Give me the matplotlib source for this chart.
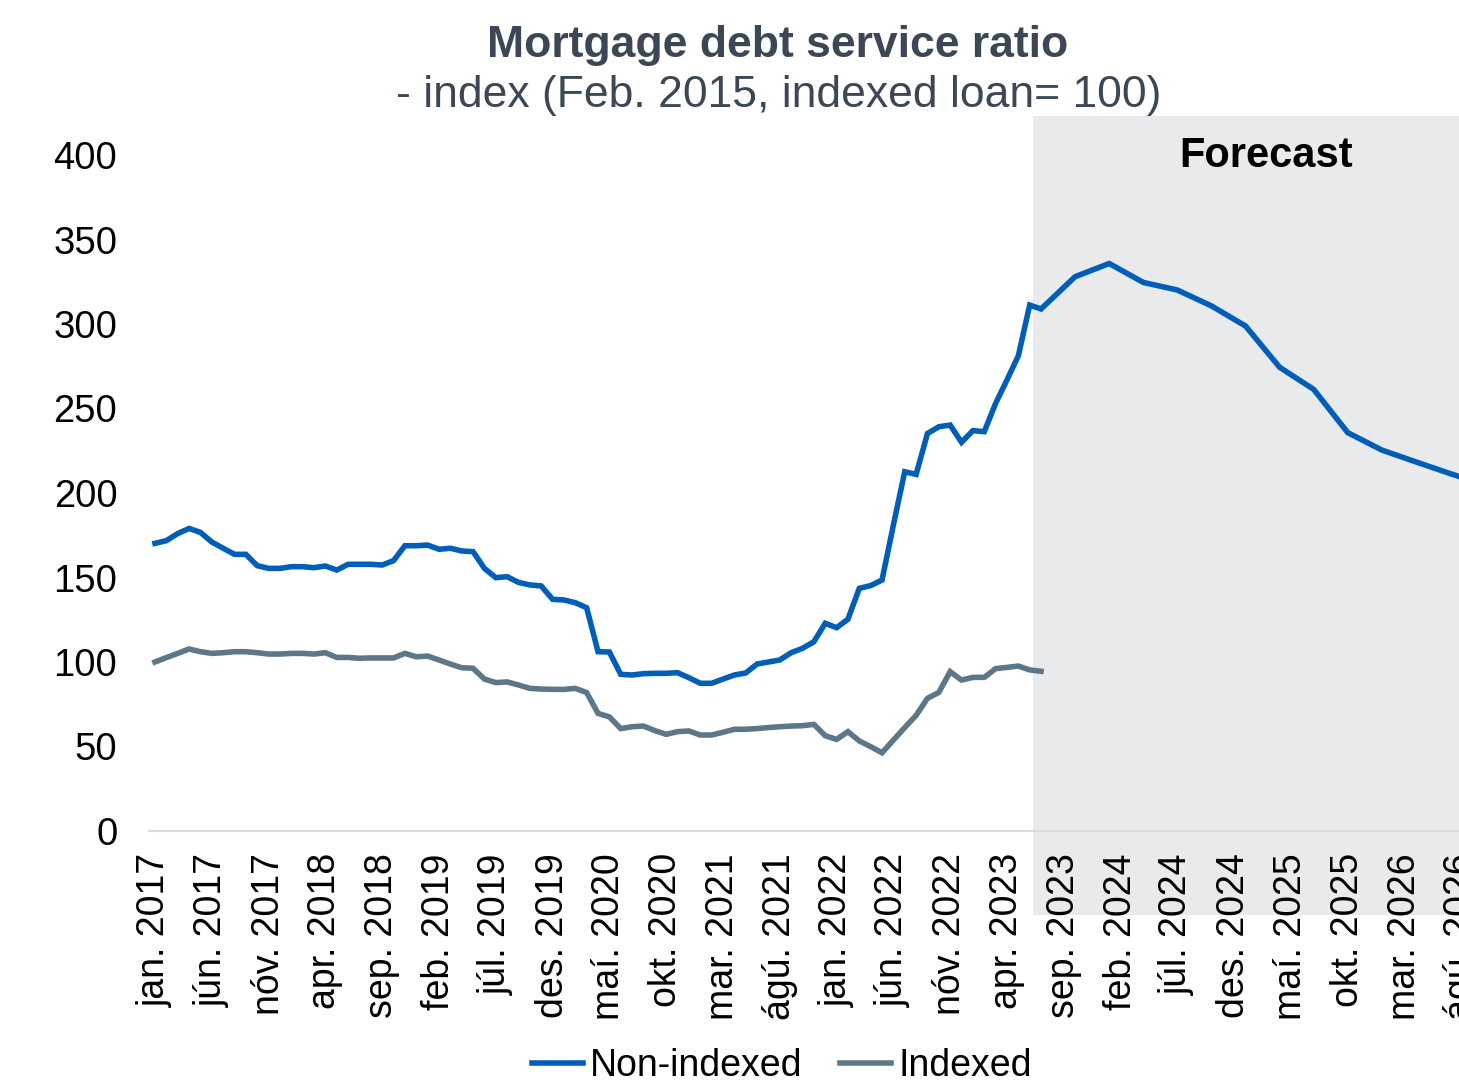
import matplotlib
matplotlib.use("Agg")
import matplotlib.pyplot as plt

plt.rcParams['font.family'] = ['Liberation Sans', 'DejaVu Sans']

# ---- data ----
month_names = ["jan.", "feb.", "mar.", "apr.", "maí.", "jún.",
               "júl.", "ágú.", "sep.", "okt.", "nóv.", "des."]
years = [2017, 2018, 2019, 2020, 2021, 2022, 2023, 2024, 2025, 2026]
months = [f"{m} {y}" for y in years for m in month_names]  # jan. 2017 .. des. 2026

# Historical monthly values, jan. 2017 – júl. 2023
non_indexed_hist = [
    170.2, 171.8, 176.0, 179.0, 176.7, 171.0, 167.3, 163.7, 163.7, 157.0,
    155.4, 155.4, 156.4, 156.4, 155.8, 156.8, 154.4, 157.8, 157.8, 157.8,
    157.4, 160.0, 168.8, 168.8, 169.2, 166.7, 167.3, 165.7, 165.3, 155.4,
    149.9, 150.5, 147.1, 145.6, 145.0, 137.1, 136.7, 135.1, 132.1, 106.1,
    105.9, 92.7, 92.3, 93.1, 93.3, 93.3, 93.7, 90.7, 87.4, 87.4,
    89.9, 92.3, 93.5, 98.8, 100.0, 101.2, 105.5, 108.1, 112.0, 122.9,
    120.3, 125.3, 143.6, 145.2, 148.5, 181.0, 212.6, 211.0, 235.2, 239.2,
    240.2, 230.0, 236.9, 236.3, 253.0, 266.9, 281.2, 311.2, 308.9,
]
indexed_hist = [
    100.0, 102.6, 105.1, 107.7, 106.1, 105.1, 105.5, 106.1, 106.1, 105.5,
    104.7, 104.7, 105.1, 105.1, 104.7, 105.5, 102.7, 102.7, 102.2, 102.4,
    102.4, 102.4, 105.1, 103.1, 103.5, 101.2, 98.8, 96.6, 96.3, 89.9,
    87.8, 88.2, 86.4, 84.4, 84.0, 83.8, 83.8, 84.4, 81.9, 69.6,
    67.5, 60.6, 61.7, 62.1, 59.4, 57.2, 58.8, 59.2, 56.8, 56.8,
    58.4, 60.2, 60.2, 60.6, 61.2, 61.7, 62.1, 62.3, 63.1, 56.4,
    54.2, 58.8, 53.3, 49.9, 46.3, 53.8, 61.2, 68.4, 78.5, 82.0,
    94.3, 89.3, 90.9, 90.9, 96.1, 96.8, 97.6, 95.3, 94.5,
]
# Forecast (quarterly points), non-indexed
forecast_labels = ["okt. 2023", "jan. 2024", "apr. 2024", "júl. 2024", "okt. 2024",
                   "jan. 2025", "apr. 2025", "júl. 2025", "okt. 2025", "jan. 2026",
                   "apr. 2026", "júl. 2026", "okt. 2026"]
forecast_values = [328.0, 335.8, 324.6, 320.1, 310.7, 298.8, 274.4, 261.3,
                   235.7, 225.4, 218.4, 211.5, 205.0]

forecast_start = 77.3   # month index where the shaded forecast area begins
tick_step = 5

# ---- figure ----
W, H = 1459, 1085
fig = plt.figure(figsize=(W / 100, H / 100), dpi=100)
ax = fig.add_axes([149.3 / W, (H - 831) / H, (1512.5 - 149.3) / W, (831 - 155) / H])

blue = "#005EB8"
grey = "#5E7788"
text_col = "#3B4754"

x_hist = list(range(len(non_indexed_hist)))
x_fc = [months.index(l) for l in forecast_labels]

ax.plot(x_hist + x_fc, non_indexed_hist + forecast_values, color=blue, lw=4.0,
        solid_joinstyle="miter", zorder=3, label="Non-indexed")
ax.plot(list(range(len(indexed_hist))), indexed_hist, color=grey, lw=4.0,
        solid_joinstyle="miter", zorder=3, label="Indexed")

span = ax.axvspan(forecast_start, len(months) + 5, ymin=-0.1242, ymax=1.0576,
                  color="#E9EAEC", lw=0, zorder=0.5)
span.set_clip_on(False)

ax.set_xlim(-0.5, len(months) - 0.5)
ax.set_ylim(0, 400)
ax.set_yticks(range(0, 401, 50))
ax.set_xticks(range(0, len(months), tick_step))
ax.set_xticklabels([months[i] for i in range(0, len(months), tick_step)], rotation=90)

ax.tick_params(axis='y', length=0, pad=23, labelsize=27.5, labelcolor="black")
ax.tick_params(axis='x', length=0, pad=16, labelsize=27, labelcolor="black")
for s in ["top", "right", "left"]:
    ax.spines[s].set_visible(False)
ax.spines["bottom"].set_color("#D9DDE1")
ax.spines["bottom"].set_linewidth(1.5)
ax.spines["bottom"].set_zorder(2)
ax.patch.set_visible(False)

fig.text(778 / W, (H - 45) / H, "Mortgage debt service ratio", ha="center", va="center",
         fontsize=32, fontweight="bold", color=text_col)
fig.text(779 / W, (H - 96) / H, "- index (Feb. 2015, indexed loan= 100)", ha="center",
         va="center", fontsize=32, color=text_col)
fig.text(1266 / W, (H - 156) / H, "Forecast", ha="center", va="center",
         fontsize=30, fontweight="bold", color="black")

fig.legend(loc="center", bbox_to_anchor=(782 / W, (H - 1066) / H), ncol=2, frameon=False,
           fontsize=27, handlelength=1.35, handletextpad=0.2, columnspacing=1.0,
           borderaxespad=0, borderpad=0)

fig.savefig("out.png", dpi=100)
